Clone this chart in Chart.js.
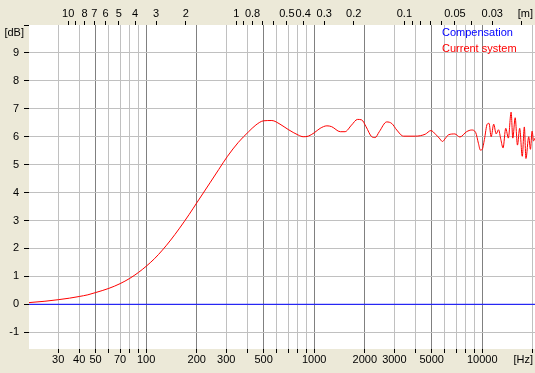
<!DOCTYPE html>
<html>
<head>
<meta charset="utf-8">
<script src="https://cdn.jsdelivr.net/npm/chart.js@4.4.0/dist/chart.umd.min.js"></script>
<style>
  html, body { margin:0; padding:0; background:#ece9d8; }
  canvas { display:block; }
</style>
</head>
<body>
<canvas id="responseChart" width="535" height="373"></canvas>
<script>
'use strict';

// Current system response (Hz / dB)
const freqHz = [20, 25, 30, 35, 40, 45, 50, 60, 70, 80, 90, 100, 112, 125, 140, 157, 180, 200, 240, 270,
  305, 354, 406, 450, 500, 560, 626, 700, 804, 861, 922, 1000, 1085, 1190, 1270, 1430, 1525, 1670, 1810, 1920,
  2035, 2200, 2305, 2440, 2700, 2900, 3100, 3400, 4000, 4580, 4950, 5270, 5550, 5800, 6050, 6300, 6870, 7360, 8070,
  8650, 9140, 9500, 9750, 10000, 10300, 10700, 10970, 11300, 11700, 12100, 12500, 12900, 13300, 13800, 14300,
  14850, 15200, 15700, 16200, 16700, 17300, 17800, 18200, 18900, 19350, 19800, 20200, 20600];
const currentDb = [0.06, 0.11, 0.165, 0.22, 0.28, 0.34, 0.42, 0.57, 0.74, 0.93, 1.14, 1.36, 1.63, 1.94, 2.3, 2.7, 3.21, 3.63, 4.35, 4.82,
  5.3, 5.8, 6.17, 6.42, 6.57, 6.58, 6.45, 6.26, 6.06, 6.0, 6.02, 6.14, 6.3, 6.39, 6.36, 6.18, 6.18, 6.42, 6.62, 6.6,
  6.36, 6.0, 5.97, 6.18, 6.53, 6.47, 6.24, 6.02, 6.02, 6.09, 6.22, 6.09, 5.95, 5.83, 5.95, 6.07, 6.1, 5.99, 6.18,
  6.24, 6.15, 5.75, 5.52, 5.55, 5.9, 6.45, 6.48, 6.0, 6.45, 6.1, 6.25, 5.9, 5.6, 6.3, 5.95,
  6.88, 5.95, 6.68, 5.7, 6.3, 5.3, 6.35, 5.22, 6.0, 5.55, 6.2, 5.85, 5.95];

// Compensation (flat)
const compFreqHz = [20, 20600];
const compDb = [0, 0];

// axes
const hzTicks = [30, 40, 50, 60, 70, 80, 90, 100, 200, 300, 400, 500, 600, 700, 800, 900,
  1000, 2000, 3000, 4000, 5000, 6000, 7000, 8000, 9000, 10000, 20000];
const hzLabels = [30, 40, 50, 70, 100, 200, 300, 500, 1000, 2000, 3000, 5000, 10000];
const hzMajor = [50, 100, 200, 500, 1000, 2000, 5000, 10000];
const meterTicks = [10, 9, 8, 7, 6, 5, 4, 3, 2, 1, 0.9, 0.8, 0.7, 0.6, 0.5, 0.4, 0.3, 0.2,
  0.1, 0.09, 0.08, 0.07, 0.06, 0.05, 0.04, 0.03, 0.02];
const meterLabels = [10, 8, 7, 6, 5, 4, 3, 2, 1, 0.8, 0.5, 0.4, 0.3, 0.2, 0.1, 0.05, 0.03];
const dbTicks = [-1, 0, 1, 2, 3, 4, 5, 6, 7, 8, 9, 10];
const SOUND_SPEED = 344;

const FONT = { family: 'Liberation Sans, Arial, sans-serif', size: 11 };

const frame = {
  id: 'frame',
  beforeDraw(chart) {
    const { ctx, chartArea: a } = chart;
    ctx.save();
    ctx.fillStyle = '#ece9d8';
    ctx.fillRect(0, 0, chart.width, chart.height);
    ctx.fillStyle = '#ffffff';
    ctx.fillRect(a.left, a.top, a.right - a.left, a.bottom - a.top);
    ctx.restore();
  },
  afterDraw(chart) {
    const { ctx } = chart;
    ctx.save();
    ctx.font = '11px ' + FONT.family;
    ctx.textBaseline = 'middle';
    ctx.fillStyle = '#000';
    ctx.textAlign = 'right';
    ctx.fillText('[dB]', 24, 33);
    ctx.fillText('[Hz]', 533, 360);
    ctx.fillText('[m]', 533, 14);
    ctx.textAlign = 'left';
    ctx.fillStyle = '#0000ff';
    ctx.fillText('Compensation', 442, 33);
    ctx.fillStyle = '#ff0000';
    ctx.fillText('Current system', 442, 49);
    ctx.restore();
  }
};

new Chart(document.getElementById('responseChart'), {
  type: 'line',
  data: {
    datasets: [
      {
        label: 'Compensation',
        data: compFreqHz.map((f, i) => ({ x: f, y: compDb[i] })),
        borderColor: '#0000ff', borderWidth: 1, pointRadius: 0, tension: 0
      },
      {
        label: 'Current system',
        data: freqHz.map((f, i) => ({ x: f, y: currentDb[i] })),
        borderColor: '#ff0000', borderWidth: 1, pointRadius: 0,
        cubicInterpolationMode: 'monotone'
      }
    ]
  },
  options: {
    responsive: false, animation: false,
    layout: { padding: 0 },
    plugins: { legend: { display: false }, tooltip: { enabled: false } },
    scales: {
      x: {
        type: 'logarithmic', position: 'bottom', min: 20.1, max: 20600,
        afterBuildTicks: s => { s.ticks = hzTicks.map(v => ({ value: v })); },
        afterFit: s => { s.height = 24; },
        ticks: {
          autoSkip: false, maxRotation: 0, padding: 0, color: '#000', font: FONT,
          callback: v => hzLabels.includes(v) ? String(v) : ''
        },
        grid: {
          color: c => hzMajor.includes(c.tick && c.tick.value) ? '#808080' : '#c0c0c0',
          tickColor: '#000', tickLength: 4
        },
        border: { display: false }
      },
      xTop: {
        type: 'logarithmic', position: 'top', min: 20.1, max: 20600,
        afterBuildTicks: s => { s.ticks = meterTicks.map(m => ({ value: SOUND_SPEED / m })); },
        afterFit: s => { s.height = 25; },
        ticks: {
          autoSkip: false, maxRotation: 0, padding: 0, color: '#000', font: FONT,
          callback: (v, i) => meterLabels.includes(meterTicks[i]) ? String(meterTicks[i]) : ''
        },
        grid: { drawOnChartArea: false, tickColor: '#000', tickLength: 4 },
        border: { display: false }
      },
      y: {
        type: 'linear', min: -1.6, max: 10,
        afterBuildTicks: s => { s.ticks = dbTicks.map(v => ({ value: v })); },
        afterFit: s => { s.width = 29; },
        ticks: {
          padding: 5, color: '#000', font: FONT,
          callback: v => v === 10 ? '' : String(v)
        },
        grid: {
          color: c => (c.tick && c.tick.value === 10) ? 'rgba(0,0,0,0)' : '#c0c0c0',
          tickColor: '#000', tickLength: 5
        },
        border: { display: false }
      }
    }
  },
  plugins: [frame]
});
</script>
</body>
</html>
